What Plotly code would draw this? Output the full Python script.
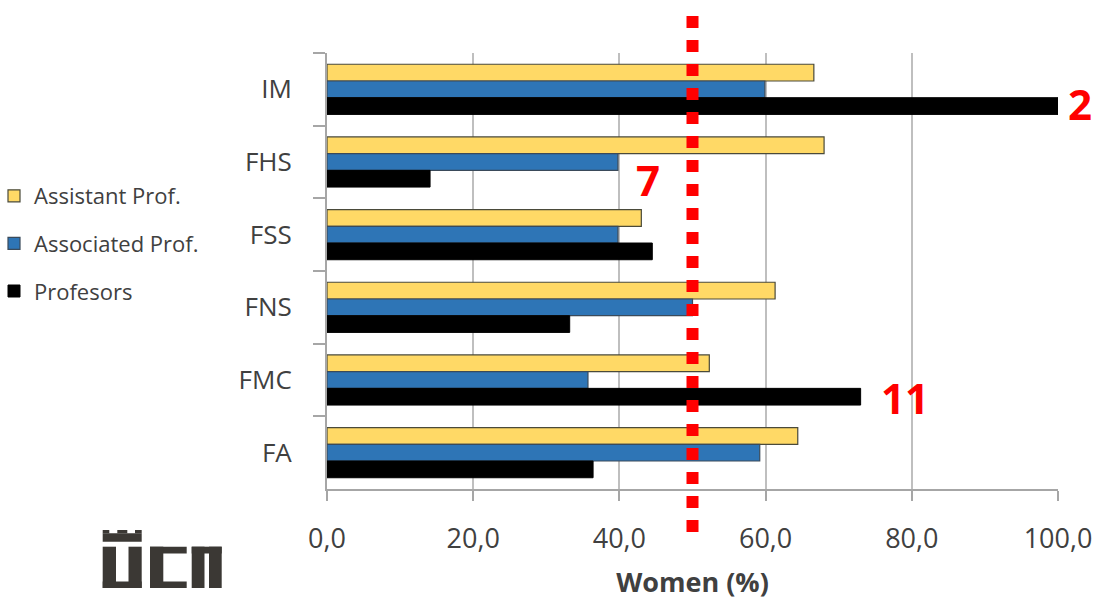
import plotly.graph_objects as go

categories = ["IM", "FHS", "FSS", "FNS", "FMC", "FA"]
assistant = [66.6, 68.0, 43.0, 61.3, 52.3, 64.4]
associated = [59.9, 39.8, 39.8, 50.0, 35.7, 59.2]
profesors = [100.0, 14.1, 44.5, 33.2, 73.0, 36.4]
series_names = ["Assistant Prof.", "Associated Prof.", "Profesors"]
x_ticks = [0, 20, 40, 60, 80, 100]
parity_line = 50
notes = [("2", 103.0, 0.885), ("7", 43.9, 0.709), ("11", 79.1, 0.209)]

W, H = 1101, 602
ML, MR, MT, MB = 327, 43, 53, 113
PW, PH = W - ML - MR, H - MT - MB

def px(xp):
    return (xp - ML) / PW

def py(yp):
    return (H - MB - yp) / PH

fig = go.Figure()
styles = [
    dict(color="#FFD966", line=dict(color="#4a4a3a", width=1.2)),
    dict(color="#2E75B6", line=dict(color="#3a4a5a", width=1.2)),
    dict(color="#000000", line=dict(color="#000000", width=1)),
]
for i, (name, vals) in enumerate(zip(series_names, [assistant, associated, profesors])):
    fig.add_trace(go.Bar(
        y=categories, x=vals, name=name, orientation="h",
        marker=styles[i], legendgroup=f"g{i}",
    ))

fig.update_layout(
    width=W, height=H,
    margin=dict(l=ML, r=MR, t=MT, b=MB, autoexpand=False),
    paper_bgcolor="white", plot_bgcolor="white",
    barmode="group", bargap=0.31, bargroupgap=0,
    separators=",.",
    font=dict(family="Open Sans", color="#404040"),
    legend=dict(
        x=px(-6), y=py(175), xanchor="left", yanchor="top",
        traceorder="grouped", tracegroupgap=16,
        font=dict(size=22, color="#404040"),
        bgcolor="rgba(0,0,0,0)",
    ),
    showlegend=True,
)

fig.update_xaxes(
    range=[0, 100], tickvals=x_ticks, tickformat=".1f",
    showgrid=True, gridcolor="#BFBFBF", gridwidth=2,
    zeroline=False,
    showline=True, linecolor="#A6A6A6", linewidth=2,
    ticks="outside", ticklen=10, tickcolor="#A6A6A6", tickwidth=2,
    ticklabelstandoff=15,
    tickfont=dict(size=27, color="#404040"),
    title=dict(text="<b>Women (%)</b>", font=dict(size=27, color="#404040"), standoff=18),
)
fig.update_yaxes(
    categoryorder="array", categoryarray=categories, autorange="reversed",
    showline=True, linecolor="#A6A6A6", linewidth=2,
    ticks="outside", tickson="boundaries", ticklen=12, tickcolor="#A6A6A6", tickwidth=2,
    showgrid=False,
    tickfont=dict(size=26, color="#404040"),
    ticklabelstandoff=28,
)

# parity dotted line
fig.add_shape(type="line", xref="x", yref="paper",
              x0=parity_line, x1=parity_line, y0=py(16), y1=py(532),
              line=dict(color="#FF0000", width=12, dash="dot"))

for txt, xv, yv in notes:
    fig.add_annotation(text=f"<b>{txt}</b>", x=xv / 100, y=yv, xref="paper", yref="paper",
                       xanchor="center", yanchor="middle",
                       showarrow=False, font=dict(size=42, color="#FF0000", family="Open Sans"))

# UCM logo (decorative shapes)
logo = "#3b3834"
def rect(x0, y0, x1, y1):
    fig.add_shape(type="rect", xref="paper", yref="paper",
                  x0=px(x0), x1=px(x1), y0=py(y1), y1=py(y0),
                  fillcolor=logo, line=dict(width=0), layer="above")
# crown
rect(102.7, 533.3, 141.7, 541.7)
rect(102.7, 530, 109.3, 533.3)
rect(117.3, 530, 127.3, 533.3)
rect(135, 530, 141.7, 533.3)
# U
rect(102.7, 546.7, 116, 588)
rect(128.5, 546.7, 141.7, 588)
rect(102.7, 581.5, 141.7, 588)
# C
rect(150, 546.7, 186.7, 553.5)
rect(150, 546.7, 163.3, 588)
rect(150, 581.5, 186.7, 588)
# M (Pi shape)
rect(191.7, 546.7, 221.7, 553.5)
rect(191.7, 546.7, 204.5, 588)
rect(209, 546.7, 221.7, 588)

fig.write_html("out.html")
